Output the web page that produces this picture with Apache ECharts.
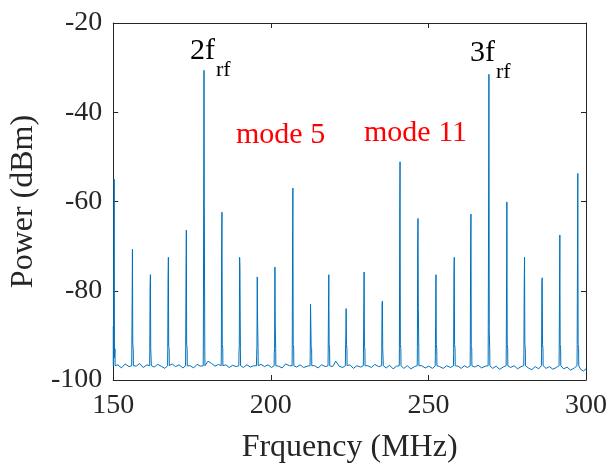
<!DOCTYPE html>
<html>
<head>
<meta charset="utf-8">
<script src="https://cdn.jsdelivr.net/npm/echarts@6/dist/echarts.min.js"></script>
<style>html,body{margin:0;padding:0;background:#fff}#c{width:610px;height:469px}</style>
</head>
<body>
<div id="c"></div>
<script>
// Peak frequencies (MHz), peak tops and the neighbouring-bin levels (dBm)
var peakFreq = [150.3,156.1,161.8,167.5,173.2,178.8,184.5,190.1,195.7,201.3,207.0,212.7,218.4,223.9,229.6,235.4,241.0,246.7,252.4,258.2,263.5,269.2,274.9,280.5,286.1,291.7,297.4];
var peakTop  = [-55.0,-70.7,-76.4,-72.5,-66.4,-30.6,-62.4,-72.5,-76.9,-74.7,-57.0,-82.8,-76.4,-84.0,-75.8,-82.3,-51.1,-63.8,-76.4,-72.5,-62.8,-31.5,-60.1,-72.5,-77.1,-67.5,-53.7];
var peakSideA= [-68.6,-82.7,-79.1,-77.4,-75.6,-58.7,-70.0,-92.0,-92.5,-93.0,-69.2,-83.0,-83.8,-90.4,-84.3,-83.0,-63.3,-69.2,-86.4,-76.4,-69.0,-60.1,-78.4,-78.7,-78.2,-80.2,-72.1];
var peakSideB= [-95.0,-92.0,-93.0,-92.5,-92.0,-61.3,-92.0,-75.0,-86.7,-87.3,-92.0,-92.5,-92.0,-92.0,-92.5,-93.0,-92.0,-84.0,-92.0,-92.0,-92.5,-89.0,-92.0,-92.0,-92.0,-92.0,-92.0];
var peakLeftFloor = [-88.0,-93.5,-94.0,-93.0,-92.5,-91.0,-93.5,-94.0,-94.5,-93.8,-92.8,-94.5,-94.0,-93.5,-94.0,-94.2,-93.0,-92.5,-94.5,-94.0,-92.0,-88.0,-93.5,-94.0,-94.0,-93.5,-92.0];

// Noise floor samples between the lines
var noiseFreq = [
 151.5,152.6,153.8,155.0, 157.3,158.4,159.5,160.7, 163.0,164.1,165.2,166.4,
 168.7,169.8,170.9,172.1, 174.4,175.5,176.6,177.7, 180.1,181.2,182.3,183.4,
 185.7,186.8,187.9,189.0, 191.3,192.4,193.5,194.6, 196.9,198.0,199.1,200.2,
 202.5,203.6,204.7,205.9, 208.2,209.3,210.4,211.6, 213.9,215.0,216.1,217.3,
 219.6,220.6,221.7,222.8, 225.1,226.2,227.3,228.5, 230.8,231.9,233.0,234.2,
 236.6,237.7,238.8,239.9, 242.2,243.3,244.4,245.6, 247.9,249.0,250.1,251.3,
 253.6,254.7,255.8,257.0, 259.4,260.4,261.4,262.4, 264.7,265.8,266.9,268.0,
 270.4,271.5,272.6,273.7, 276.1,277.2,278.3,279.4, 281.7,282.8,283.9,285.0,
 287.3,288.4,289.5,290.6, 292.9,294.0,295.1,296.3, 298.3,299.2,300.0];
var noisePower = [
 -96.6,-97.3,-96.4,-97.0, -96.9,-96.3,-97.2,-96.6, -97.1,-96.5,-96.9,-97.4,
 -96.4,-97.0,-96.6,-97.3, -96.8,-97.3,-96.5,-96.9, -95.8,-96.3,-96.9,-96.5,
 -96.6,-97.2,-96.7,-97.0, -97.2,-96.6,-97.1,-96.8, -96.5,-97.0,-96.6,-97.2,
 -96.9,-97.3,-96.4,-96.8, -97.1,-96.6,-97.2,-96.9, -96.8,-97.3,-96.6,-97.0,
 -97.0,-95.8,-96.9,-97.2, -96.6,-97.4,-96.8,-97.1, -96.8,-97.2,-96.5,-97.0,
 -97.3,-96.7,-97.5,-96.9, -97.4,-96.8,-97.5,-97.0, -96.8,-97.3,-96.9,-97.4,
 -97.0,-97.4,-96.8,-97.2, -96.9,-97.4,-96.8,-97.2, -97.1,-96.7,-97.3,-96.9,
 -97.4,-96.9,-97.6,-97.1, -97.2,-96.8,-97.5,-97.0, -97.3,-97.7,-97.0,-97.5,
 -97.4,-97.0,-97.6,-97.2, -97.5,-97.1,-97.8,-97.3, -97.6,-98.0,-97.5];

var xTicks = [150,200,250,300];
var yTicks = [-100,-80,-60,-40,-20];

var pts = [];
for (var i = 0; i < peakFreq.length; i++) {
  var f = peakFreq[i];
  pts.push([f - 0.25, -96.8]);
  pts.push([f - 0.2, peakLeftFloor[i]]);
  pts.push([f - 0.1, peakSideA[i]]);
  pts.push([f, peakTop[i]]);
  pts.push([f + 0.1, peakSideB[i]]);
  pts.push([f + 0.25, -93.0]);
  pts.push([f + 0.3, -96.8]);
}
for (var j = 0; j < noiseFreq.length; j++) pts.push([noiseFreq[j], noisePower[j]]);
pts.push([150.0, -88.0]);
pts.sort(function (a, b) { return a[0] - b[0]; });

var FONT = '"Liberation Serif","Times New Roman",serif';
var AX = '#262626';
var chart = echarts.init(document.getElementById('c'), null, {renderer: 'canvas'});
var axCommon = {
  type: 'value',
  axisLine: {show: true, lineStyle: {color: AX, width: 1}},
  axisTick: {show: true, inside: true, length: 5, lineStyle: {color: AX}},
  splitLine: {show: false}
};
chart.setOption({
  animation: false,
  backgroundColor: '#fff',
  grid: {left: 113, right: 24, top: 23, bottom: 85, containLabel: false},
  xAxis: [
    Object.assign({}, axCommon, {
      position: 'bottom', min: xTicks[0], max: xTicks[xTicks.length - 1], interval: 50,
      axisLabel: {color: AX, fontFamily: FONT, fontSize: 28, margin: 12},
      name: 'Frquency (MHz)', nameLocation: 'middle', nameGap: 52,
      nameTextStyle: {color: AX, fontFamily: FONT, fontSize: 32}
    }),
    Object.assign({}, axCommon, {
      position: 'top', min: xTicks[0], max: xTicks[xTicks.length - 1], interval: 50,
      axisLabel: {show: false}
    })
  ],
  yAxis: [
    Object.assign({}, axCommon, {
      position: 'left', min: yTicks[0], max: yTicks[yTicks.length - 1], interval: 20,
      axisLabel: {color: AX, fontFamily: FONT, fontSize: 28, margin: 11},
      name: 'Power (dBm)', nameLocation: 'middle', nameGap: 58,
      nameTextStyle: {color: AX, fontFamily: FONT, fontSize: 32}
    }),
    Object.assign({}, axCommon, {
      position: 'right', min: yTicks[0], max: yTicks[yTicks.length - 1], interval: 20,
      axisLabel: {show: false}
    })
  ],
  series: [{
    type: 'line',
    data: pts,
    showSymbol: false,
    symbol: 'none',
    sampling: null,
    lineStyle: {color: '#0072BD', width: 1},
    z: 2
  }],
  graphic: [
    {type: 'text', left: 190, top: 36, style: {text: '2f', font: '30px ' + FONT, fill: '#000'}},
    {type: 'text', left: 216, top: 59, style: {text: 'rf', font: '22px ' + FONT, fill: '#000'}},
    {type: 'text', left: 470, top: 38, style: {text: '3f', font: '30px ' + FONT, fill: '#000'}},
    {type: 'text', left: 496, top: 61, style: {text: 'rf', font: '22px ' + FONT, fill: '#000'}},
    {type: 'text', left: 236, top: 120, style: {text: 'mode 5', font: '30px ' + FONT, fill: '#ff0000'}},
    {type: 'text', left: 364, top: 118, style: {text: 'mode 11', font: '30px ' + FONT, fill: '#ff0000'}}
  ]
});
</script>
</body>
</html>
